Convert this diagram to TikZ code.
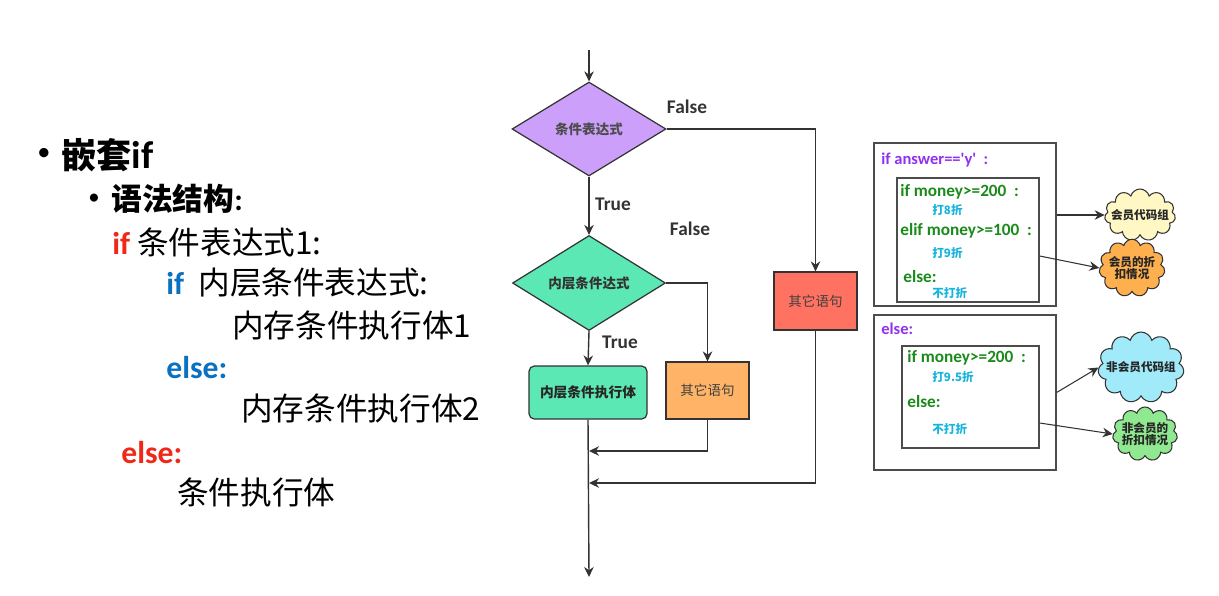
\documentclass[tikz,border=0pt]{standalone}
\usepackage{fontspec}
\setmainfont{Carlito}
\newfontfamily\cjk{Noto Sans CJK SC}
\usepackage{xcolor}
\usetikzlibrary{shapes.geometric,shapes.symbols,arrows.meta}

\definecolor{lineg}{HTML}{333333}
\definecolor{lavender}{HTML}{CCA0FA}
\definecolor{mint}{HTML}{5CE8B4}
\definecolor{redbox}{HTML}{FF7262}
\definecolor{orangebox}{HTML}{FFB366}
\definecolor{ifred}{HTML}{F02818}
\definecolor{ifblue}{HTML}{0A70C0}
\definecolor{purp}{HTML}{9030F0}
\definecolor{codegreen}{HTML}{1A8A1A}
\definecolor{cyantext}{HTML}{18B4DC}
\definecolor{cloudyel}{HTML}{FFF7C4}
\definecolor{cloudora}{HTML}{FFB04E}
\definecolor{cloudblu}{HTML}{A0EAFA}
\definecolor{cloudgrn}{HTML}{90E890}

\newcommand{\setfs}[1]{\fontsize{#1}{#1}\selectfont}

\tikzset{
  arr/.style={-{Stealth[length=2mm,width=1.9mm]}, line width=0.8pt, draw=lineg},
  txt/.style={anchor=west, inner sep=0pt},
  decision/.style={diamond, draw=lineg, line width=0.7pt, inner sep=0pt, font=\cjk\bfseries\setfs{7.7}},
  procbox/.style={rectangle, draw=lineg, line width=0.7pt, inner sep=0pt, font=\cjk\setfs{7.7}, text=black!75},
  codebox/.style={rectangle, draw=black!70, line width=0.7pt, inner sep=0pt},
  cloudy/.style={cloud, cloud puffs=11, cloud ignores aspect, draw=lineg, line width=0.6pt, inner sep=0pt},
  cloudtxt/.style={inner sep=0pt, font=\cjk\bfseries\setfs{6.6}, align=center, text=black!85},
  flowlbl/.style={inner sep=0pt, font=\bfseries\setfs{11}, text=lineg},
  greentxt/.style={txt, font=\bfseries\setfs{9.8}, text=codegreen},
  cyantxt/.style={txt, font=\cjk\bfseries\setfs{6.6}, text=cyantext},
}

\begin{document}
\begin{tikzpicture}[x=0.02cm,y=-0.02cm]
  \useasboundingbox (0,0) rectangle (1219,595);

  % left: syntax
  \node[txt] (dot1) at (37,154) {\setfs{15}\textbullet};
  \node[txt] (title) at (61,155) {\setfs{20}\bfseries{\cjk 嵌套}\setfs{22}if};
  \node[txt] (dot2) at (88,199) {\setfs{13}\textbullet};
  \node[txt] (syntax) at (111,199) {\setfs{17.5}\bfseries{\cjk 语法结构}:};
  \node[txt] (line1) at (112,242) {\setfs{18}{\bfseries\color{ifred}if} {\cjk 条件表达式1:}};
  \node[txt] (line2) at (166,283) {\setfs{18}{\bfseries\color{ifblue}if}\ \ {\cjk 内层条件表达式:}};
  \node[txt] (line3) at (232,325) {\setfs{18}\cjk 内存条件执行体1};
  \node[txt] (line4) at (166,368) {\setfs{18}\bfseries\color{ifblue}else:};
  \node[txt] (line5) at (241,408) {\setfs{18}\cjk 内存条件执行体2};
  \node[txt] (line6) at (121,453) {\setfs{18}\bfseries\color{ifred}else:};
  \node[txt] (line7) at (177,492) {\setfs{18}\cjk 条件执行体};

  % flow chart
  \coordinate (start) at (589,50);
  \node[decision, fill=lavender, minimum width=3.08cm, minimum height=1.88cm, text=black!70] (cond) at (589,129) {条件表达式};
  \node[decision, fill=mint, minimum width=3.06cm, minimum height=1.9cm, text=black!80] (inner) at (589,283) {内层条件达式};
  \node[procbox, fill=mint, rounded corners=3pt, minimum width=2.36cm, minimum height=1.06cm, font=\cjk\bfseries\setfs{7.8}, text=black!85] (body) at (588,392.5) {内层条件执行体};
  \node[procbox, fill=orangebox, minimum width=1.66cm, minimum height=1.14cm] (other) at (707.5,390.5) {其它语句};
  \node[procbox, fill=redbox, minimum width=1.66cm, minimum height=1.16cm] (otherout) at (815.5,301) {其它语句};
  \coordinate (join1) at (589,451);
  \coordinate (join2) at (589,483);
  \coordinate (finish) at (589,577);

  \draw[arr] (start) -- (cond.north);
  \draw[arr] (cond.south) -- (inner.north);
  \draw[arr] (cond.east) -| (otherout.north);
  \draw[arr] (inner.east) -| (other.north);
  \draw[arr] (inner.south) -- (body.north);
  \draw[arr] (body.south) -- (finish);
  \draw[arr] (other.south) |- (join1);
  \draw[arr] (otherout.south) |- (join2);

  \node[flowlbl] (f1) at (687,107) {False};
  \node[flowlbl] (t1) at (613,204) {True};
  \node[flowlbl] (f2) at (690,229) {False};
  \node[flowlbl] (t2) at (620,342) {True};

  % right: example code
  \node[codebox, minimum width=3.64cm, minimum height=3.26cm] (outer1) at (965,224.5) {};
  \node[codebox, minimum width=2.84cm, minimum height=2.48cm] (inner1) at (968,240) {};
  \node[codebox, minimum width=3.64cm, minimum height=3.1cm] (outer2) at (965,392.5) {};
  \node[codebox, minimum width=2.74cm, minimum height=2.04cm] (inner2) at (970.5,397) {};

  \node[txt, font=\bfseries\setfs{9.4}, text=purp] (ans) at (881,160) {if answer==\textquotesingle y\textquotesingle\ \ :};
  \node[greentxt] (m1) at (900,192) {if money>=200\ \ :};
  \node[cyantxt] (d8) at (932,210) {打8折};
  \node[greentxt] (m2) at (900,231) {elif money>=100\ \ :};
  \node[cyantxt] (d9) at (932,253) {打9折};
  \node[greentxt] (e1) at (903,277) {else:};
  \node[cyantxt] (n1) at (932,293) {不打折};

  \node[txt, font=\bfseries\setfs{9.4}, text=purp] (els) at (881,329) {else:};
  \node[greentxt] (m3) at (907,358) {if money>=200\ \ :};
  \node[cyantxt] (d95) at (932,377) {打9.5折};
  \node[greentxt] (e2) at (907,402) {else:};
  \node[cyantxt] (n2) at (932,429) {不打折};

  \node[cloudy, fill=cloudyel, minimum width=1.42cm, minimum height=1.04cm,
    label={[cloudtxt]center:会员代码组}] (c1) at (1140,215) {};
  \node[cloudy, fill=cloudora, minimum width=1.32cm, minimum height=1.15cm,
    label={[cloudtxt]center:会员的折\\扣情况}] (c2) at (1132,268) {};
  \node[cloudy, fill=cloudblu, minimum width=1.72cm, minimum height=1.42cm,
    label={[cloudtxt]center:非会员代码组}] (c3) at (1141,367.5) {};
  \node[cloudy, fill=cloudgrn, minimum width=1.3cm, minimum height=1.08cm,
    label={[cloudtxt]center:非会员的\\折扣情况}] (c4) at (1145,434) {};

  \draw[arr, line width=0.6pt] (outer1.east |- c1.west) -- (c1.west);
  \draw[arr, line width=0.6pt] ([yshift=-0.32cm]inner1.east) -- (c2.west);
  \draw[arr, line width=0.6pt] (outer2.east) -- (c3.west);
  \draw[arr, line width=0.6pt] ([yshift=-0.52cm]inner2.east) -- (c4.west);
\end{tikzpicture}
\end{document}
